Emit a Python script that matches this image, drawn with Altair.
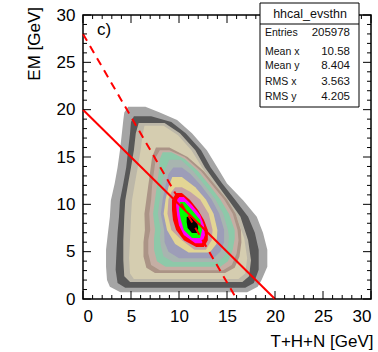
import altair as alt
import pandas as pd

# ---------------- data ----------------
# contour levels, outermost first: y rows, left x, right x (GeV)
lvl01_y  = [0.7, 1.3, 2.0, 3.4, 5.2, 7.0, 8.7, 10.4, 12.2, 13.9, 15.7, 17.5, 18.9, 19.7, 20.3]
lvl01_xl = [3.9, 2.8, 2.5, 2.4, 2.4, 2.6, 2.8, 2.9, 3.3, 3.6, 3.85, 4.05, 4.2, 4.3, 4.7]
lvl01_xr = [17.1, 18.2, 18.6, 19.2, 19.2, 18.75, 18.1, 16.7, 15.0, 14.0, 12.9, 11.35, 9.8, 8.0, 6.5]

lvl02_y  = [1.2, 1.7, 3.1, 5.2, 7.0, 8.7, 10.4, 12.2, 13.9, 15.7, 17.5, 18.7, 19.3]
lvl02_xl = [4.4, 3.6, 3.4, 3.5, 3.6, 3.75, 3.85, 4.2, 4.5, 4.7, 4.9, 5.0, 5.3]
lvl02_xr = [16.9, 17.8, 18.3, 18.3, 17.9, 17.2, 15.9, 14.5, 13.3, 12.3, 10.7, 9.2, 7.1]

lvl03_y  = [1.8, 2.4, 4.1, 6.2, 8.7, 10.4, 12.2, 13.9, 15.7, 17.5, 18.6]
lvl03_xl = [4.9, 4.3, 4.2, 4.2, 4.3, 4.4, 4.7, 5.0, 5.3, 5.5, 5.8]
lvl03_xr = [16.6, 17.3, 17.5, 17.2, 16.4, 15.2, 13.9, 12.7, 11.7, 10.1, 8.5]

lvl04_y  = [2.1, 2.7, 4.3, 6.4, 8.7, 10.4, 12.2, 13.9, 15.7, 17.3, 18.3]
lvl04_xl = [5.3, 4.9, 4.8, 4.9, 5.0, 5.1, 5.4, 5.7, 6.0, 6.2, 6.4]
lvl04_xr = [16.2, 16.9, 17.1, 16.8, 16.0, 14.9, 13.6, 12.4, 11.3, 9.9, 8.4]

lvl05_y  = [2.75, 3.3, 4.5, 6.0, 7.3, 9.0, 10.5, 12.0, 13.5, 15.0, 16.0]
lvl05_xl = [7.5, 6.6, 6.3, 6.3, 6.45, 6.4, 6.6, 6.8, 7.0, 7.2, 7.6]
lvl05_xr = [14.8, 15.8, 16.3, 16.5, 16.45, 15.9, 15.0, 13.8, 12.6, 10.9, 9.0]

lvl06_y  = [3.05, 3.6, 4.8, 6.2, 7.3, 9.0, 10.5, 12.0, 13.5, 15.0, 15.7]
lvl06_xl = [8.0, 7.1, 6.8, 6.8, 7.0, 6.9, 7.1, 7.2, 7.4, 7.6, 8.0]
lvl06_xr = [14.6, 15.5, 16.0, 16.2, 16.1, 15.6, 14.7, 13.5, 12.3, 10.6, 9.0]

lvl07_y  = [3.4, 4.0, 5.2, 6.4, 7.3, 9.0, 10.5, 12.0, 13.5, 14.8, 15.5]
lvl07_xl = [8.6, 7.7, 7.4, 7.4, 7.5, 7.3, 7.5, 7.7, 7.9, 8.0, 8.3]
lvl07_xr = [14.3, 15.1, 15.6, 15.8, 15.8, 15.2, 14.3, 13.2, 12.0, 10.6, 9.2]

lvl08_y  = [3.9, 4.5, 5.6, 6.6, 7.3, 9.0, 10.5, 12.0, 13.5, 14.7]
lvl08_xl = [9.4, 8.4, 8.1, 8.0, 8.1, 7.8, 8.0, 8.2, 8.5, 9.0]
lvl08_xr = [14.0, 14.7, 15.1, 15.2, 15.1, 14.6, 13.8, 12.7, 11.5, 10.2]

lvl09_y  = [4.3, 5.0, 6.0, 7.3, 9.0, 10.5, 12.0, 13.2, 13.9]
lvl09_xl = [10.0, 8.9, 8.5, 8.45, 8.1, 8.3, 8.6, 8.9, 9.4]
lvl09_xr = [13.6, 14.3, 14.7, 14.7, 14.2, 13.4, 12.3, 11.2, 10.3]

lvl10_y  = [4.9, 5.8, 7.3, 9.0, 10.5, 11.8, 12.9]
lvl10_xl = [11.0, 9.6, 8.75, 8.4, 8.6, 8.9, 9.3]
lvl10_xr = [13.2, 13.9, 14.0, 13.6, 12.8, 11.7, 10.3]

lvl11_y  = [5.2, 6.2, 7.3, 9.0, 10.5, 11.3, 11.8]
lvl11_xl = [11.6, 10.3, 9.2, 8.8, 8.9, 9.2, 9.6]
lvl11_xr = [12.8, 13.4, 13.5, 13.1, 12.2, 11.2, 10.3]

lvl12_y  = [5.5, 6.2, 7.3, 8.35, 9.4, 10.45, 11.2]
lvl12_xl = [11.8, 10.5, 9.7, 9.375, 9.27, 9.27, 9.7]
lvl12_xr = [12.6, 13.0, 13.0, 12.6, 11.98, 11.15, 10.3]

lvl13_y  = [5.9, 6.76, 7.8, 8.87, 9.93, 10.77]
lvl13_xl = [11.7, 10.5, 10.0, 9.8, 9.7, 9.9]
lvl13_xr = [12.4, 12.7, 12.6, 12.2, 11.35, 10.5]

lvl14_y  = [6.44, 7.3, 8.35, 9.4, 10.24]
lvl14_xl = [11.35, 10.5, 10.2, 10.0, 10.1]
lvl14_xr = [12.2, 12.4, 12.2, 11.35, 10.6]

lvl15_y  = [6.97, 7.5, 8.13, 8.66]
lvl15_xl = [11.35, 10.9, 10.8, 10.8]
lvl15_xr = [11.9, 12.0, 11.9, 11.35]

level_colors = ["#a5a5a5", "#575757", "#bcb7a8", "#d5cdb0", "#ab9486",
                "#c5aea4", "#8dc9a9", "#a8b5b0", "#9d9db8", "#e3d594",
                "#c3a2a6", "#ff0000", "#ff00ff", "#00ff00", "#000000"]

levels = [
    (lvl01_y, lvl01_xl, lvl01_xr), (lvl02_y, lvl02_xl, lvl02_xr),
    (lvl03_y, lvl03_xl, lvl03_xr), (lvl04_y, lvl04_xl, lvl04_xr),
    (lvl05_y, lvl05_xl, lvl05_xr), (lvl06_y, lvl06_xl, lvl06_xr),
    (lvl07_y, lvl07_xl, lvl07_xr), (lvl08_y, lvl08_xl, lvl08_xr),
    (lvl09_y, lvl09_xl, lvl09_xr), (lvl10_y, lvl10_xl, lvl10_xr),
    (lvl11_y, lvl11_xl, lvl11_xr), (lvl12_y, lvl12_xl, lvl12_xr),
    (lvl13_y, lvl13_xl, lvl13_xr), (lvl14_y, lvl14_xl, lvl14_xr),
    (lvl15_y, lvl15_xl, lvl15_xr),
]

# cut lines
solid_x = [0, 20]
solid_y = [20, 0]
dashed_x = [0, 16]
dashed_y = [28, 0]

# axes
major_ticks = [0, 5, 10, 15, 20, 25, 30]
minor_ticks = [v for v in range(0, 31) if v % 5 != 0]

# stats box
stats_title = "hhcal_evsthn"
stat_labels = ["Entries", "Mean x", "Mean y", "RMS x", "RMS y"]
stat_values = ["205978", "10.58", "8.404", "3.563", "4.205"]

panel_label = "c)"
x_title = "T+H+N [GeV]"
y_title = "EM [GeV]"

# ---------------- chart ----------------
W, H = 288, 284
FONT = "Liberation Sans"

xs = alt.Scale(domain=[0, 30], nice=False, zero=False)
ys = alt.Scale(domain=[0, 30], nice=False, zero=False)

xaxis = alt.Axis(values=major_ticks, ticks=False, domain=False, grid=False,
                 labelFontSize=17, labelFont=FONT, labelColor="black",
                 labelPadding=9, title=x_title, titleFont=FONT,
                 titleFontSize=17, titleFontWeight="normal", titleColor="black",
                 titleX=290, titleY=42, titleAlign="right",
                 titleBaseline="middle", titleAngle=0)
yaxis = alt.Axis(values=major_ticks, ticks=False, domain=False, grid=False,
                 labelFontSize=17, labelFont=FONT, labelColor="black",
                 labelPadding=8, labelBaseline="middle", title=None)

layers = []
for (ly, lxl, lxr), col in zip(levels, level_colors):
    df = pd.DataFrame({"y": ly, "xl": lxl, "xr": lxr})
    layers.append(
        alt.Chart(df).mark_area(orient="horizontal", color=col, opacity=1,
                                interpolate="linear").encode(
            y=alt.Y("y:Q", scale=ys, axis=yaxis),
            x=alt.X("xl:Q", scale=xs, axis=xaxis, stack=None),
            x2="xr:Q",
        )
    )

solid_df = pd.DataFrame({"x": solid_x, "y": solid_y})
dashed_df = pd.DataFrame({"x": dashed_x, "y": dashed_y})
layers.append(alt.Chart(solid_df).mark_line(color="#ff0000", strokeWidth=2).encode(
    x=alt.X("x:Q", scale=xs, axis=xaxis), y=alt.Y("y:Q", scale=ys, axis=yaxis)))
layers.append(alt.Chart(dashed_df).mark_line(color="#ff0000", strokeWidth=2,
                                             strokeDash=[8, 6]).encode(
    x=alt.X("x:Q", scale=xs, axis=xaxis), y=alt.Y("y:Q", scale=ys, axis=yaxis)))

maj = pd.DataFrame({"v": major_ticks})
mnr = pd.DataFrame({"v": minor_ticks})
for d, ln in ((maj, 8), (mnr, 4)):
    layers.append(alt.Chart(d).mark_rule(color="black", strokeWidth=1).encode(
        x=alt.X("v:Q", scale=xs, axis=xaxis), y=alt.value(H), y2=alt.value(H - ln)))
    layers.append(alt.Chart(d).mark_rule(color="black", strokeWidth=1).encode(
        x=alt.X("v:Q", scale=xs, axis=xaxis), y=alt.value(0), y2=alt.value(ln)))
    layers.append(alt.Chart(d).mark_rule(color="black", strokeWidth=1).encode(
        y=alt.Y("v:Q", scale=ys, axis=yaxis), x=alt.value(0), x2=alt.value(ln)))
    layers.append(alt.Chart(d).mark_rule(color="black", strokeWidth=1).encode(
        y=alt.Y("v:Q", scale=ys, axis=yaxis), x=alt.value(W), x2=alt.value(W - ln)))

one = pd.DataFrame({"a": [0]})
layers.append(alt.Chart(one).mark_text(text=panel_label, font=FONT, fontSize=17,
                                       align="left", baseline="middle",
                                       color="black").encode(
    x=alt.value(14), y=alt.value(15)))

# y axis title (rotated, top-anchored like ROOT)
layers.append(alt.Chart(one).mark_text(text=y_title, font=FONT, fontSize=17,
                                       angle=270, align="right",
                                       baseline="middle", color="black").encode(
    x=alt.value(-48), y=alt.value(-8)))

# stats box
layers.append(alt.Chart(one).mark_rect(fill="white", stroke="black",
                                       strokeWidth=1).encode(
    x=alt.value(177), x2=alt.value(276), y=alt.value(-12), y2=alt.value(92)))
layers.append(alt.Chart(one).mark_rule(color="black", strokeWidth=1).encode(
    x=alt.value(177), x2=alt.value(276), y=alt.value(9)))
layers.append(alt.Chart(one).mark_text(text=stats_title, font=FONT, fontSize=12.5,
                                       align="center", baseline="middle",
                                       color="#111").encode(
    x=alt.value(227), y=alt.value(-1)))
row_y = [18, 37, 51, 67, 82]
for lab, val, ry in zip(stat_labels, stat_values, row_y):
    layers.append(alt.Chart(one).mark_text(text=lab, font=FONT, fontSize=10.5,
                                           align="left", baseline="middle",
                                           color="#111").encode(
        x=alt.value(182), y=alt.value(ry)))
    layers.append(alt.Chart(one).mark_text(text=val, font=FONT, fontSize=11.5,
                                           align="right", baseline="middle",
                                           color="#111").encode(
        x=alt.value(267), y=alt.value(ry)))

chart = alt.layer(*layers).properties(
    width=W, height=H,
    autosize=alt.AutoSizeParams(type="none"),
    padding={"left": 83, "top": 15, "right": 7, "bottom": 53},
    background="white",
).configure_view(stroke="black", strokeWidth=1.5)

chart.save("out.html", embed_options={"renderer": "svg", "actions": False})
